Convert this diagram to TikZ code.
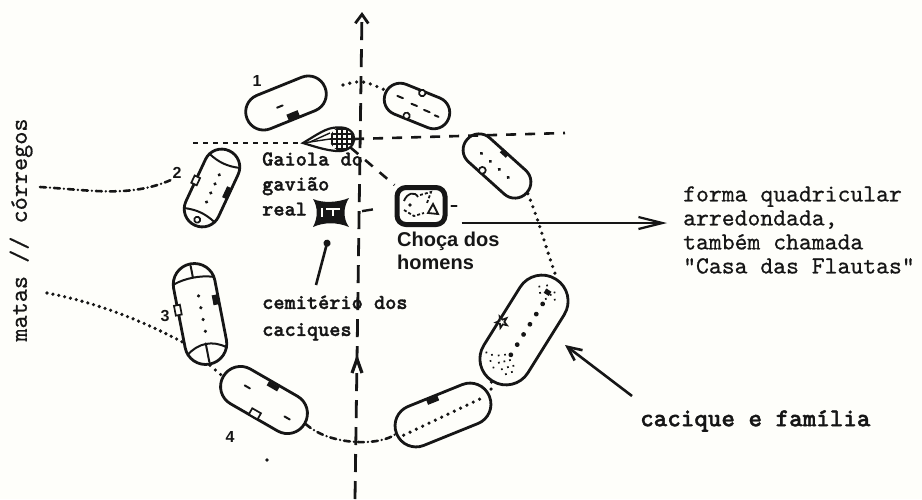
\documentclass[tikz,border=0pt]{standalone}
\usepackage{fontspec}
\newfontfamily\sansf{Liberation Sans}
\newfontfamily\lmbold{lmmonolt10-bold}[Extension=.otf, FakeBold=1.4]
\newfontfamily\lmreg{lmmono10-regular}[Extension=.otf, FakeBold=0.6]
\usetikzlibrary{arrows.meta,calc}
\definecolor{paper}{RGB}{254,254,250}
\definecolor{ink}{RGB}{22,22,22}
\begin{document}
\begin{tikzpicture}[x=1pt,y=-1pt,
 house/.style={draw=ink, line width=2.8pt, rectangle, inner sep=0pt},
 detail/.style={draw=ink, line width=2pt, line cap=round},
 dotline/.style={draw=ink, line width=3.6pt, line cap=round, dash pattern=on 0pt off 7pt},
 dashdot/.style={draw=ink, line width=2.6pt, line cap=round, dash pattern=on 6pt off 4pt on 0pt off 4pt},
 shortdash/.style={draw=ink, line width=2.5pt, dash pattern=on 5pt off 5pt},
 longdash/.style={draw=ink, line width=2.6pt, dash pattern=on 10pt off 9pt},
 axisline/.style={draw=ink, line width=2.8pt, dash pattern=on 18pt off 9pt},
 num/.style={font=\sansf\bfseries\fontsize{16}{16}\selectfont, text=ink, inner sep=1pt},
 lbl/.style={font=\lmbold\fontsize{21.3}{25}\selectfont, text=ink, align=left, inner sep=0pt, anchor=west},
 sanslbl/.style={font=\sansf\bfseries\fontsize{20}{23}\selectfont, text=ink, align=left, inner sep=0pt, anchor=west},
 bigtxt/.style={font=\lmreg\fontsize{24.5}{24}\selectfont, text=ink, align=left, inner sep=0pt, anchor=west},
 bigarrow/.style={draw=ink, line width=2.2pt, -{Straight Barb[length=24pt,width=12pt,line width=2.2pt]}},
 cacarrow/.style={draw=ink, line width=2.6pt, -{Straight Barb[length=14pt,width=13pt,line width=2.6pt]}},
]
\fill[paper] (0,0) rectangle (922,499);
\useasboundingbox (0,0) rectangle (922,499);

% ---------- axis ----------
\coordinate (axbot) at (355,499);
\coordinate (axtop) at (362,12);
\coordinate (axmid) at (357,359);
\draw[axisline, -{Straight Barb[length=9pt,width=13pt,line width=2.8pt]}] (axbot) -- (axtop);
\draw[ink, line width=3.2pt, line join=miter] ($(axmid)+(-5,14)$) -- (axmid) -- ($(axmid)+(5,14)$);

% ---------- houses ----------
% H1
\begin{scope}[shift={(286,103)}, rotate=22, transform shape]
 \node[house, minimum width=84pt, minimum height=36pt, rounded corners=17.8pt] (h1) {};
 \draw[detail] (-10,1) -- (-4,1);
 \fill[ink] (-4,11) rectangle (8,18);
\end{scope}
% H2
\begin{scope}[shift={(417,106)}, rotate=-22, transform shape]
 \node[house, minimum width=68pt, minimum height=32pt, rounded corners=15.8pt] (h2) {};
 \draw[detail] (-22,-2) -- (-16,-2) (-6,0) -- (0,0) (8,1) -- (14,1) (20,2) -- (24,2);
 \draw[detail, line width=1.7pt, fill=paper] (0,-14) circle (3.2pt);
 \draw[detail, line width=1.7pt, fill=paper] (-6,13) circle (3.2pt);
\end{scope}
% H3
\begin{scope}[shift={(497,166)}, rotate=-42, transform shape]
 \node[house, minimum width=80pt, minimum height=32pt, rounded corners=15.8pt] (h3) {};
 \foreach \u in {-20,-8,4,16} \fill[ink] (\u,1) circle (1.8pt);
 \fill[ink] (-7,-17) rectangle (1,-12);
 \draw[detail, line width=1.7pt, fill=paper] (-8,13) circle (3.4pt);
\end{scope}
% H4 (cacique)
\begin{scope}[shift={(524,330)}, rotate=58, transform shape]
 \node[house, minimum width=120pt, minimum height=52pt, rounded corners=25.8pt] (h4) {};
 \foreach \u in {-28,-16,-4,8,20,32} \fill[ink] (\u,2) circle (2.4pt);
 \foreach \p in {(-48,-6),(-45,2),(-44,-12),(-41,-4),(-40,6),(-38,-14),(-37,0),(-35,-8),(-33,4),(-47,8),(-42,12),(-36,10),(-31,-3),(-39,-20)}
   \fill[ink] \p circle (1.2pt);
 \foreach \p in {(40,-6),(44,4),(46,-2),(48,6),(42,10),(38,2),(50,-4),(45,-10)}
   \fill[ink] \p circle (1.2pt);
 \fill[ink] (42,-3) rectangle (47,3);
 \draw[ink, line width=1.7pt, fill=paper, shift={(-5,-23)}] (90:6) -- (126:2.5) -- (162:6) -- (198:2.5) -- (234:6) -- (270:2.5) -- (306:6) -- (342:2.5) -- (18:6) -- (54:2.5) -- cycle;
\end{scope}
% H5
\begin{scope}[shift={(443,415)}, rotate=22, transform shape]
 \node[house, minimum width=100pt, minimum height=42pt, rounded corners=20.8pt] (h5) {};
 \draw[dotline] (-44,4) -- (40,-1);
 \fill[ink] (-10,-20) rectangle (2,-15);
\end{scope}
% H6 (house 4)
\begin{scope}[shift={(264,400)}, rotate=-30, transform shape]
 \node[house, minimum width=94pt, minimum height=40pt, rounded corners=19.8pt] (h6) {};
 \draw[detail] (-24,-3) -- (-18,-3) (26,4) -- (32,4);
 \fill[ink] (-5,-19) rectangle (7,-14);
 \draw[detail, line width=1.7pt, fill=paper] (-6,13) rectangle (4,20);
\end{scope}
% H7 (house 3)
\begin{scope}[shift={(200,314)}, rotate=101, transform shape]
 \node[house, minimum width=102pt, minimum height=42pt, rounded corners=20.8pt] (h7) {};
 \draw[detail] (34,-20) .. controls (38,-8) and (38,8) .. (34,20);
 \draw[detail] (37,0) -- (49,0);
 \draw[detail] (-38,-20) .. controls (-28,-8) and (-28,8) .. (-38,20);
 \draw[detail] (-30,0) -- (-49,0);
 \foreach \u in {-18,-6,6,18} \fill[ink] (\u,2) circle (1.8pt);
 \draw[detail, line width=1.7pt, fill=paper] (3,-24) rectangle (13,-18);
 \fill[ink] (6,15) rectangle (16,21);
\end{scope}
% H8 (house 2)
\begin{scope}[shift={(212,188)}, rotate=65, transform shape]
 \node[house, minimum width=82pt, minimum height=36pt, rounded corners=17.8pt] (h8) {};
 \draw[detail] (30,-17) .. controls (26,-5) and (26,5) .. (30,17);
 \draw[detail] (-30,-17) .. controls (-26,-5) and (-26,5) .. (-30,17);
 \draw[detail, line width=1.7pt] (-35,0) circle (3pt);
 \foreach \u in {-15,-5,5,15} \fill[ink] (\u,1) circle (1.8pt);
 \draw[detail, line width=1.7pt, fill=paper] (-4,-21) rectangle (4,-15);
 \fill[ink] (-4,13) rectangle (8,19);
\end{scope}

% ---------- ring connections ----------
\coordinate (t1) at (343,85);
\coordinate (t2) at (385,90);
\draw[dotline] (t1) .. controls (362,80) .. (t2);
\draw[dotline] (h3.east) .. controls (537,215) and (545,245) .. (h4.east);
\draw[dotline] (h4.west) -- (h5.east);
\draw[dashdot] (h6.east) .. controls (330,446) and (380,446) .. (h5.west);
\draw[dotline] (h7.west) -- (h6.west);

% ---------- gaiola ----------
\coordinate (gtip) at (303,143);
\node[circle, inner sep=0pt, minimum size=24pt] (gaiola) at (342,139) {};
\draw[ink, line width=2.2pt, fill=paper] (gtip) .. controls (318,134) and (326,128) .. (336,127.5)
   .. controls (350,126) and (355,134) .. (354,140) .. controls (353,148) and (345,152) .. (336,151)
   .. controls (325,150) and (316,147) .. (gtip) -- cycle;
\begin{scope}
 \clip (342,139) circle (12pt);
 \foreach \i in {-10,-5,0,5,10} {
   \draw[ink, line width=1.2pt] (342+\i,125) -- (342+\i,153);
   \draw[ink, line width=1.2pt] (328,139+\i) -- (356,139+\i);
 }
\end{scope}
\draw[ink, line width=1.4pt] (gtip) -- (330,139);
\draw[ink, line width=1.4pt] (310,142) -- (330,133);

% ---------- horizontal lines ----------
\coordinate (hl) at (193,143);
\coordinate (hr) at (565,133);
\draw[shortdash] (hl) -- (gtip);
\draw[longdash] (gaiola.east) -- (hr);

% ---------- choca ----------
\node[draw=ink, line width=5pt, rounded corners=9pt, minimum width=48pt, minimum height=37pt, inner sep=0pt] (choca) at (421,206) {};
\draw[ink, line width=1.8pt] (404,201) .. controls (407,193) and (415,191) .. (418,197);
\draw[ink, line width=1.8pt, dash pattern=on 3pt off 2pt] (420,195) -- (431,192) -- (427,203);
\draw[ink, line width=1.8pt] (428,213) -- (433,204) -- (438,214) -- cycle;
\draw[ink, line width=1.8pt, dash pattern=on 3pt off 2pt] (404,210) -- (414,216) -- (424,213);
\fill[ink] (410,205) circle (1.9pt);
\draw[longdash] (gaiola.south east) -- (choca.north west);
\draw[detail, line width=2.2pt] ([xshift=4pt]choca.east) -- ([xshift=9pt]choca.east);

% ---------- icon real ----------
\node[inner sep=0pt, minimum width=38pt, minimum height=30pt] (iconreal) at (331,213) {};
\fill[ink] (313,199) .. controls (322,203) and (337,203) .. (349,198) .. controls (343,207) and (343,219) .. (349,227)
   .. controls (337,222) and (324,222) .. (313,227) .. controls (318,218) and (318,207) .. (313,199) -- cycle;
\draw[paper, line width=1.1pt] (322,208) -- (322,217) (326,209) -- (340,209) (333,209) -- (333,216);
\draw[draw=ink, line width=2.4pt, dash pattern=on 0pt off 12pt on 11pt off 40pt] (iconreal.east) -- (choca.west);

% ---------- labels ----------
\node[num] (n1) at (257,81) {1};
\node[num] (n2) at (177,173) {2};
\node[num] (n3) at (165,316) {3};
\node[num] (n4) at (230,437) {4};

\node[lbl] (gaiolatxt) at (262,184) {Gaiola do\\gavião\\real};
\node[sanslbl] (chocatxt) at (397,251) {Choça dos\\homens};
\node[lbl, font=\lmbold\fontsize{21.3}{27}\selectfont] (cemit) at (262,318) {cemitério dos\\caciques};
\node[bigtxt] (flautas) at (683,230) {forma quadricular\\arredondada,\\também chamada\\“Casa das Flautas”};
\node[font=\lmbold\fontsize{25.8}{24}\selectfont, text=ink, inner sep=0pt, anchor=west] (cacique) at (640,421) {cacique e família};
\node[font=\lmreg\fontsize{25}{24}\selectfont, text=ink, inner sep=0pt, rotate=90] (matas) at (21,230) {matas // córregos};

% ---------- pointers ----------
\coordinate (fstart) at ([xshift=14pt,yshift=4pt]choca.south east);
\draw[bigarrow, shorten >=16pt] (fstart) -- (fstart -| flautas.west);
\coordinate (cemstart) at (316,285);
\draw[draw=ink, line width=2.6pt, shorten >=12pt, -{Circle[length=7pt]}] (cemstart) -- (iconreal.south);
\coordinate (cacstart) at (632,396);
\coordinate (cacptr) at (565,345);
\draw[cacarrow] (cacstart) -- (cacptr);

% ---------- left streams ----------
\coordinate (l2a) at (40,187);
\draw[dashdot] (l2a) .. controls (90,190) and (130,198) .. (n2.south west);
\coordinate (l3a) at (47,293);
\coordinate (l3b) at (186,344);
\draw[dotline, dash pattern=on 0pt off 6pt] (l3a) .. controls (110,305) and (160,330) .. (l3b);

\fill[ink] (267,460) circle (1.9pt);
\end{tikzpicture}
\end{document}
